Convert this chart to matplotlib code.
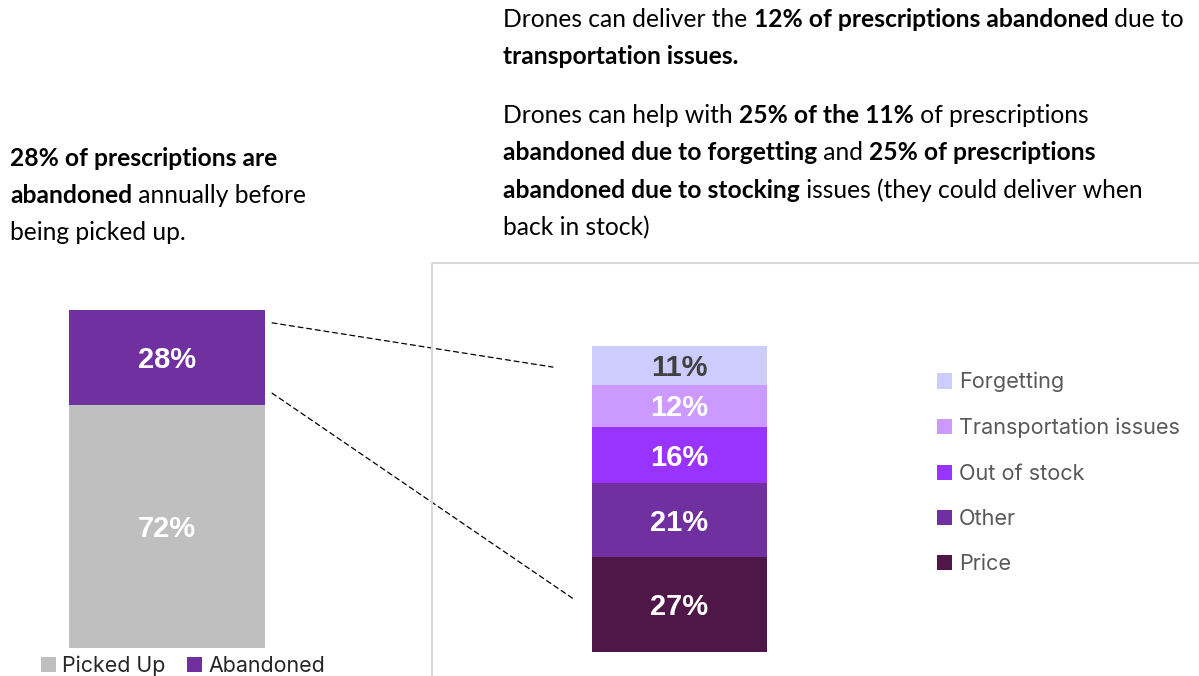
import matplotlib.pyplot as plt
from matplotlib.patches import ConnectionPatch
from matplotlib.lines import Line2D

W, H = 1199, 676

# left bar
split_labels = ['Picked Up', 'Abandoned']
split_values = [72, 28]
split_colors = ['#BFBFBF', '#7030A0']

# right bar (bottom to top)
reason_labels = ['Price', 'Other', 'Out of stock', 'Transportation issues', 'Forgetting']
reason_values = [27, 21, 16, 12, 11]
reason_colors = ['#4F1747', '#7030A0', '#9933FF', '#CC99FF', '#CCCCFF']
reason_text_colors = ['white', 'white', 'white', 'white', '#404040']

left_note = [
    [('28% of prescriptions are', True)],
    [('abandoned', True), (' annually before', False)],
    [('being picked up.', False)],
]
right_note = [
    [('Drones can deliver the ', False), ('12% of prescriptions abandoned', True), (' due to', False)],
    [('transportation issues.', True)],
    None,
    [('Drones can help with ', False), ('25% of the 11%', True), (' of prescriptions', False)],
    [('abandoned due to forgetting', True), (' and ', False), ('25% of prescriptions', True)],
    [('abandoned due to stocking', True), (' issues (they could deliver when', False)],
    [('back in stock)', False)],
]

fig = plt.figure(figsize=(W / 100, H / 100), dpi=100)

def px_box(x0, y0, x1, y1):
    return [x0 / W, 1 - y1 / H, (x1 - x0) / W, (y1 - y0) / H]

LBL_SIZE = 21

def seg_label(ax, y, txt, color):
    # centre the digits (cap height) on the segment middle
    ax.annotate(txt, (0, y), xytext=(0, -0.36 * LBL_SIZE), textcoords='offset points',
                ha='center', va='baseline', color=color, fontsize=LBL_SIZE,
                fontweight='bold', family='Liberation Sans')

# left stacked bar
ax1 = fig.add_axes(px_box(69, 310, 265, 648))
bottom = 0
handles1 = []
for lab, v, c in zip(split_labels, split_values, split_colors):
    b = ax1.bar(0, v, width=1, bottom=bottom, color=c, label=lab)
    handles1.append(b)
    seg_label(ax1, bottom + v / 2, f'{v}%', 'white')
    bottom += v
ax1.set_xlim(-0.5, 0.5)
ax1.set_ylim(0, 100)
ax1.axis('off')

# right stacked bar
ax2 = fig.add_axes(px_box(592, 346, 767, 652))
bottom = 0
handles2 = []
for lab, v, c, tc in zip(reason_labels, reason_values, reason_colors, reason_text_colors):
    b = ax2.bar(0, v, width=1, bottom=bottom, color=c, label=lab)
    handles2.append(b)
    seg_label(ax2, bottom + v / 2, f'{v}%', tc)
    bottom += v
ax2.set_xlim(-0.5, 0.5)
ax2.set_ylim(0, sum(reason_values))
ax2.axis('off')

# dashed connectors
for ya, xb, yb in [(96.2, -0.723, 81.0), (75.4, -0.597, 14.8)]:
    con = ConnectionPatch(xyA=(0.536, ya), coordsA=ax1.transData,
                          xyB=(xb, yb), coordsB=ax2.transData,
                          linestyle=(0, (4, 3)), color='black', lw=0.9)
    fig.add_artist(con)

# gray frame around right panel
fig.add_artist(Line2D([432 / W, 432 / W, 1], [0, 1 - 263 / H, 1 - 263 / H],
                      color='#D9D9D9', lw=1.5, transform=fig.transFigure))

# legends
leg1 = fig.legend(handles=handles1, labels=split_labels, loc='center left',
                  bbox_to_anchor=(41 / W, 1 - 666 / H), ncol=2, frameon=False,
                  handlelength=0.7, handleheight=0.7, handletextpad=0.3,
                  columnspacing=1.0, borderpad=0, borderaxespad=0,
                  prop={'family': 'Inter', 'size': 15.4})
for t in leg1.get_texts():
    t.set_color('#262626')

leg2 = fig.legend(handles=handles2[::-1], labels=reason_labels[::-1], loc='upper left',
                  bbox_to_anchor=(937 / W, 1 - 372 / H), frameon=False,
                  handlelength=0.7, handleheight=0.7, handletextpad=0.3,
                  labelspacing=1.17, borderpad=0, borderaxespad=0,
                  prop={'family': 'Inter', 'size': 15.6})
for t in leg2.get_texts():
    t.set_color('#595959')

# mixed bold text blocks
renderer = fig.canvas.get_renderer()

def rich_lines(lines, x0, baselines, size=17.7):
    k = 0
    for line in lines:
        if line is None:
            continue
        x = x0
        for txt, bold in line:
            t = fig.text(x / W, 1 - baselines[k] / H, txt, fontsize=size,
                         fontweight='bold' if bold else 'normal', family='Lato',
                         color='black', va='baseline', ha='left')
            x += t.get_window_extent(renderer).width
        k += 1

rich_lines(left_note, 10, [166, 203, 240])
rich_lines(right_note, 503, [27, 64, 123, 160, 198, 235])

fig.savefig('out.png', dpi=100)
